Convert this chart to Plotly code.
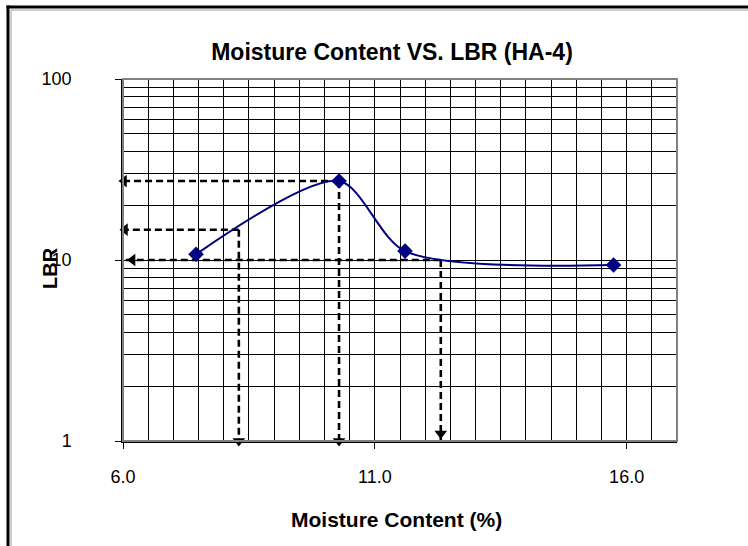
import plotly.graph_objects as go

# Data
moisture = [7.45, 10.29, 11.6, 15.74]
lbr = [10.75, 27.3, 11.2, 9.38]

# Guide readings (dashed arrows)
guide_mc = [10.29, 8.30, 12.31]
guide_lbr = [27.3, 14.7, 10.0]

x_ticks = [6, 11, 16]
x_tick_text = ["6.0", "11.0", "16.0"]
y_ticks = [1, 10, 100]
y_tick_text = ["1", "10", "100"]
y_minor = [2, 3, 4, 5, 6, 7, 8, 9, 20, 30, 40, 50, 60, 70, 80, 90]

# page body margin is removed by post_script, so page pixels == figure pixels
W, H = 748, 546
PL, PR, PT, PB = 123, 677, 79, 441          # plot area in pixels
L, T = PL, PT
R, B = W - PR, H - PB
pw, ph = PR - PL, PB - PT

def px2paper_x(px):
    return (px - PL) / pw

def px2paper_y(py):
    return (PB - py) / ph

FONT = "Liberation Sans, Arial, sans-serif"
DASH = "7px,4px"

fig = go.Figure()

# dashed guide lines
for mc, v in zip(guide_mc, guide_lbr):
    fig.add_trace(go.Scatter(x=[mc, 5.9], y=[v, v], mode="lines",
                             line=dict(color="black", width=2.6, dash=DASH),
                             hoverinfo="skip", showlegend=False))
    fig.add_trace(go.Scatter(x=[mc, mc], y=[v, 0.93], mode="lines",
                             line=dict(color="black", width=2.6, dash=DASH),
                             hoverinfo="skip", showlegend=False))

# arrowheads: left-pointing at the end of horizontal guides
h_tip_x = [6.02, 6.04, 6.19]
fig.add_trace(go.Scatter(x=h_tip_x, y=guide_lbr, mode="markers",
                         marker=dict(symbol="triangle-left", size=11, color="black"),
                         cliponaxis=False, hoverinfo="skip", showlegend=False))
# arrowheads: down-pointing at the end of vertical guides
v_tip_y = [1.0, 1.0, 1.1]
fig.add_trace(go.Scatter(x=guide_mc, y=v_tip_y, mode="markers",
                         marker=dict(symbol="triangle-down", size=11, color="black"),
                         cliponaxis=False, hoverinfo="skip", showlegend=False))

# data curve
fig.add_trace(go.Scatter(x=moisture, y=lbr, mode="lines+markers",
                         line=dict(color="#000080", width=2, shape="spline", smoothing=0.8),
                         marker=dict(symbol="diamond", size=12, color="#000080"),
                         cliponaxis=False, showlegend=False))

annotations = [
    dict(text="<b>LBR</b>", textangle=-90, x=px2paper_x(50), y=px2paper_y(268),
         xref="paper", yref="paper", showarrow=False,
         font=dict(family=FONT, size=20, color="black"),
         xanchor="center", yanchor="middle"),
    dict(text="<b>Moisture Content (%)</b>", x=px2paper_x(396), y=px2paper_y(519),
         xref="paper", yref="paper", showarrow=False,
         font=dict(family=FONT, size=21, color="black"),
         xanchor="center", yanchor="middle"),
]

shapes = [
    # plot area gray frame
    dict(type="rect", xref="paper", yref="paper", x0=0, y0=0, x1=1, y1=1,
         line=dict(color="#808080", width=2), layer="above"),
    # outer chart frame (left and top, double)
    dict(type="line", xref="paper", yref="paper", x0=px2paper_x(8), x1=px2paper_x(8),
         y0=px2paper_y(560), y1=px2paper_y(5.5), line=dict(color="black", width=3)),
    dict(type="line", xref="paper", yref="paper", x0=px2paper_x(6.5), x1=px2paper_x(760),
         y0=px2paper_y(7), y1=px2paper_y(7), line=dict(color="black", width=3)),
    dict(type="line", xref="paper", yref="paper", x0=px2paper_x(11), x1=px2paper_x(11),
         y0=px2paper_y(560), y1=px2paper_y(10), line=dict(color="#a0a0a0", width=1)),
    dict(type="line", xref="paper", yref="paper", x0=px2paper_x(11), x1=px2paper_x(760),
         y0=px2paper_y(10), y1=px2paper_y(10), line=dict(color="#a0a0a0", width=1)),
]

fig.update_layout(
    width=W, height=H,
    margin=dict(l=L, r=R, t=T, b=B, autoexpand=False),
    paper_bgcolor="white", plot_bgcolor="white",
    title=dict(text="<b>Moisture Content VS. LBR (HA-4)</b>", x=392 / W, xanchor="center",
               y=1 - 52 / H, yanchor="middle", yref="container",
               font=dict(family=FONT, size=23, color="black")),
    font=dict(family=FONT, color="black"),
    annotations=annotations,
    shapes=shapes,
    showlegend=False,
)

fig.update_xaxes(range=[6, 17], tickmode="array", tickvals=x_ticks, ticktext=x_tick_text,
                 ticks="outside", ticklen=6, tickcolor="black", tickwidth=1,
                 tickfont=dict(family=FONT, size=18, color="black"),
                 ticklabelstandoff=13, automargin=False,
                 showgrid=True, gridcolor="black", gridwidth=1,
                 showline=True, linecolor="black", linewidth=1.5,
                 minor=dict(dtick=0.5, tick0=6, showgrid=True, gridcolor="black", gridwidth=1),
                 zeroline=False, fixedrange=True)
fig.update_yaxes(type="log", range=[0, 2], tickmode="array", tickvals=y_ticks, ticktext=y_tick_text,
                 ticks="outside", ticklen=6, tickcolor="black", tickwidth=1,
                 tickfont=dict(family=FONT, size=18, color="black"),
                 ticklabelstandoff=40, automargin=False,
                 showgrid=True, gridcolor="black", gridwidth=1,
                 showline=True, linecolor="black", linewidth=1.5,
                 minor=dict(tickmode="array", tickvals=y_minor, showgrid=True,
                            gridcolor="black", gridwidth=1),
                 zeroline=False, fixedrange=True)

fig.write_html("out.html", config={"displayModeBar": False},
               post_script="document.body.style.margin='0';document.body.style.overflow='hidden';")
